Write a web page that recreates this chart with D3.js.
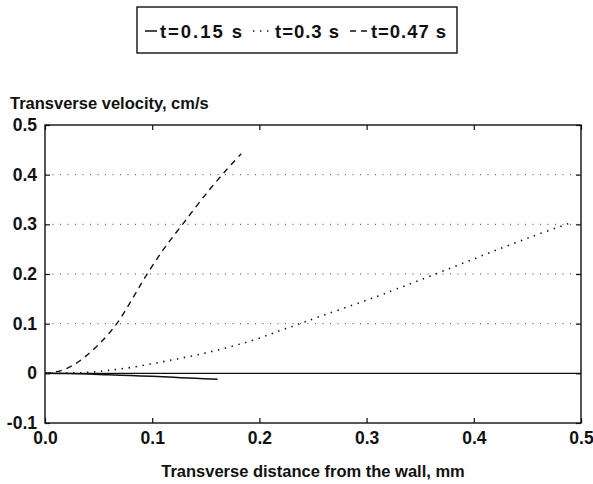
<!DOCTYPE html>
<html>
<head>
<meta charset="utf-8">
<script src="https://cdn.jsdelivr.net/npm/d3@7"></script>
<style>
  html, body { margin: 0; padding: 0; background: #fff; }
  svg { display: block; }
  text { font-family: "Liberation Sans", Arial, Helvetica, sans-serif; font-weight: bold; fill: #111; }
</style>
</head>
<body>
<svg id="chart" width="593" height="484"></svg>
<script>
// Transverse velocity profiles near the wall at three instants
const seriesNames = ["t=0.15 s", "t=0.3 s", "t=0.47 s"];

const x015 = [0, 0.02, 0.04, 0.06, 0.08, 0.10, 0.12, 0.14, 0.161];
const v015 = [0, -0.0005, -0.0015, -0.003, -0.0045, -0.006, -0.008, -0.010, -0.012];

const x030 = [0, 0.02, 0.04, 0.059, 0.081, 0.109, 0.137, 0.165, 0.193, 0.218, 0.239, 0.261, 0.288, 0.31, 0.328, 0.362, 0.409, 0.455, 0.493];
const v030 = [0, 0.0005, 0.002, 0.006, 0.012, 0.023, 0.035, 0.049, 0.066, 0.085, 0.101, 0.118, 0.138, 0.155, 0.170, 0.198, 0.238, 0.276, 0.305];

const x047 = [0, 0.014, 0.025, 0.036, 0.050, 0.067, 0.082, 0.093, 0.110, 0.129, 0.152, 0.169, 0.183];
const v047 = [0, 0.005, 0.015, 0.031, 0.058, 0.100, 0.152, 0.192, 0.248, 0.302, 0.366, 0.409, 0.442];

const xTicks = [0, 0.1, 0.2, 0.3, 0.4, 0.5];
const xTickLabels = ["0.0", "0.1", "0.2", "0.3", "0.4", "0.5"];
const yTicks = [-0.1, 0, 0.1, 0.2, 0.3, 0.4, 0.5];
const yTickLabels = ["-0.1", "0", "0.1", "0.2", "0.3", "0.4", "0.5"];
const gridValues = [0.1, 0.2, 0.3, 0.4];

const xTitle = "Transverse distance from the wall, mm";
const yTitle = "Transverse velocity, cm/s";

const svg = d3.select("#chart");
const plotL = 45, plotR = 581, plotT = 125, plotB = 423;
const titleSize = 16.5, tickSize = 17.5, legendSize = 18.5;

const x = d3.scaleLinear().domain([0, 0.5]).range([plotL, plotR]);
const y = d3.scaleLinear().domain([-0.1, 0.5]).range([plotB, plotT]);

// dotted horizontal grid
svg.append("g").selectAll("line").data(gridValues).join("line")
  .attr("x1", plotL).attr("x2", plotR)
  .attr("y1", d => y(d)).attr("y2", d => y(d))
  .attr("stroke", "#444").attr("stroke-width", 1)
  .attr("stroke-dasharray", "1,6.5");

// zero reference line
svg.append("line")
  .attr("x1", x(0)).attr("x2", x(0.5))
  .attr("y1", y(0)).attr("y2", y(0))
  .attr("stroke", "#111").attr("stroke-width", 1.4);

// axes with inward ticks
const xLabelOf = d => xTickLabels[xTicks.indexOf(d)];
const yLabelOf = d => yTickLabels[yTicks.indexOf(d)];

const gx = svg.append("g").attr("transform", `translate(0,${plotB})`)
  .call(d3.axisBottom(x).tickValues(xTicks).tickFormat(xLabelOf)
    .tickSizeInner(-5).tickSizeOuter(0).tickPadding(9));
const gy = svg.append("g").attr("transform", `translate(${plotL},0)`)
  .call(d3.axisLeft(y).tickValues(yTicks).tickFormat(yLabelOf)
    .tickSizeInner(-5).tickSizeOuter(0).tickPadding(8));
const gt = svg.append("g").attr("transform", `translate(0,${plotT})`)
  .call(d3.axisTop(x).tickValues(xTicks).tickFormat("")
    .tickSizeInner(-5).tickSizeOuter(0));
const gr = svg.append("g").attr("transform", `translate(${plotR},0)`)
  .call(d3.axisRight(y).tickValues(yTicks).tickFormat("")
    .tickSizeInner(-5).tickSizeOuter(0));

[gx, gy, gt, gr].forEach(g => {
  g.select(".domain").remove();
  g.selectAll(".tick line").attr("stroke", "#111").attr("stroke-width", 1.2);
  g.selectAll("text").attr("font-size", tickSize)
    .attr("font-family", "'Liberation Sans', Arial, sans-serif")
    .attr("font-weight", "bold").attr("fill", "#111");
});

// plot frame
svg.append("rect")
  .attr("x", plotL).attr("y", plotT)
  .attr("width", plotR - plotL).attr("height", plotB - plotT)
  .attr("fill", "none").attr("stroke", "#111").attr("stroke-width", 1.4);

// curves
const line = d3.line().x(d => x(d[0])).y(d => y(d[1])).curve(d3.curveCatmullRom.alpha(0.5));
const series = [
  { pts: d3.zip(x015, v015), dash: null, width: 1.5 },
  { pts: d3.zip(x030, v030), dash: "1.4,5.6", width: 1.6 },
  { pts: d3.zip(x047, v047), dash: "6,5", width: 1.4 }
];
series.forEach(s => {
  svg.append("path").datum(s.pts)
    .attr("d", line)
    .attr("fill", "none").attr("stroke", "#111")
    .attr("stroke-width", s.width)
    .attr("stroke-dasharray", s.dash);
});

// axis titles
svg.append("text").attr("x", 10).attr("y", 109)
  .attr("font-size", titleSize).text(yTitle);
svg.append("text").attr("x", (plotL + plotR) / 2).attr("y", 477)
  .attr("text-anchor", "middle").attr("font-size", titleSize).text(xTitle);

// legend
const legend = svg.append("g");
legend.append("rect").attr("x", 137).attr("y", 7).attr("width", 320).attr("height", 46)
  .attr("fill", "#fff").attr("stroke", "#111").attr("stroke-width", 1.4);
const legendItems = [
  { x1: 145, x2: 157, tx: 160, tw: 82 },
  { x1: 253, x2: 271, tx: 275, tw: 64 },
  { x1: 350, x2: 368, tx: 371, tw: 75 }
];
legendItems.forEach((it, i) => {
  legend.append("line")
    .attr("x1", it.x1).attr("x2", it.x2).attr("y1", 31).attr("y2", 31)
    .attr("stroke", "#111").attr("stroke-width", series[i].width)
    .attr("stroke-dasharray", series[i].dash);
  legend.append("text").attr("x", it.tx).attr("y", 38)
    .attr("font-size", legendSize)
    .attr("textLength", it.tw).attr("lengthAdjust", "spacing")
    .text(seriesNames[i]);
});
</script>
</body>
</html>
